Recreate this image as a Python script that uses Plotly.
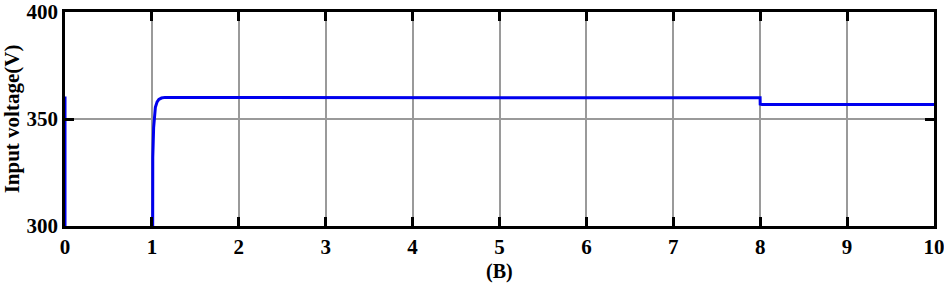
import plotly.graph_objects as go

# Data (time in s, voltage in V)
time_s = [0.0, 0.0, 0.002, 1.0, 1.004, 1.01, 1.02, 1.03, 1.04, 1.06, 1.08, 1.11, 1.15, 1.3, 3.0, 5.0, 7.0, 7.999, 8.0, 8.02, 9.0, 10.0]
voltage_v = [360.5, 0.0, 0.0, 0.0, 300.0, 332.0, 346.0, 352.5, 355.5, 358.0, 359.2, 359.8, 360.1, 360.1, 360.0, 359.9, 359.9, 359.9, 357.0, 356.8, 356.8, 356.8]

x_ticks = [0, 1, 2, 3, 4, 5, 6, 7, 8, 9, 10]
y_ticks = [300, 350, 400]

font_family = "Liberation Serif"

fig = go.Figure()
fig.add_trace(go.Scatter(x=time_s, y=voltage_v, mode="lines",
                         line=dict(color="#0000ee", width=3), showlegend=False))

axis_common = dict(showline=True, linecolor="black", linewidth=2.5, mirror="ticks",
                   ticks="inside", ticklen=9, tickwidth=2.5, tickcolor="black",
                   showgrid=True, gridcolor="#9a9a9a", gridwidth=2, zeroline=False,
                   automargin=False, ticklabeloverflow="allow",
                   tickfont=dict(family=font_family, size=21, color="black", weight="bold"))

fig.update_xaxes(range=[0, 10], tickvals=x_ticks, **axis_common)
fig.update_yaxes(range=[300, 400], tickvals=y_ticks,
                 title=dict(text="Input voltage(V)", standoff=8,
                            font=dict(family=font_family, size=21, color="black", weight="bold")),
                 **axis_common)

fig.add_annotation(text="(B)", x=0.5, y=-0.15, xref="paper", yref="paper",
                   yanchor="top", showarrow=False,
                   font=dict(family=font_family, size=20, color="black", weight="bold"))

fig.update_layout(width=944, height=286, margin=dict(l=65, r=10, t=12, b=60, autoexpand=False),
                  plot_bgcolor="white", paper_bgcolor="white")

fig.write_html("out.html", config={"displayModeBar": False},
               post_script="document.body.style.margin='0';")
